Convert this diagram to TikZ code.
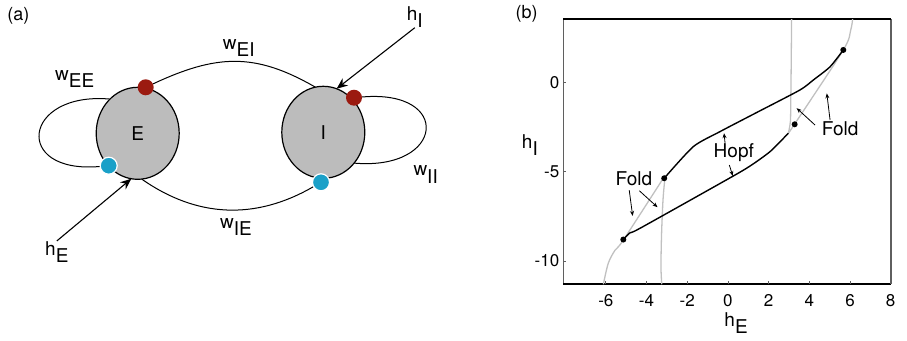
\documentclass[tikz,border=0pt]{standalone}
\usepackage{fontspec}
\setmainfont{TeX Gyre Heros}
\usetikzlibrary{arrows.meta,shapes.geometric}
\definecolor{popgray}{RGB}{188,188,188}
\definecolor{excred}{RGB}{155,26,16}
\definecolor{inhblue}{RGB}{26,160,200}
\definecolor{foldgray}{RGB}{192,192,192}
\definecolor{boxgray}{RGB}{95,95,95}
\newcommand{\lowidx}[2]{#1\raisebox{-7.5pt}{#2}}
\tikzset{
    pop/.style={ellipse, draw, line width=1.2pt, fill=popgray, minimum width=83pt, minimum height=92pt, inner sep=0pt, outer sep=0pt, font=\fontsize{19}{22}\selectfont},
    excdot/.style={circle, fill=excred, minimum size=16pt, inner sep=0pt},
    inhdot/.style={circle, fill=inhblue, draw=white, line width=1.2pt, minimum size=17pt, inner sep=0pt},
    link/.style={draw, line width=1pt},
    drive/.style={draw, line width=1.1pt, -{Stealth[length=11pt,width=9pt]}},
    lbl/.style={inner sep=0pt, anchor=base west, font=\fontsize{19}{22}\selectfont},
    notelbl/.style={inner sep=0pt, anchor=base, font=\fontsize{19}{22}\selectfont},
    ticklbl/.style={inner sep=0pt, font=\fontsize{17}{20}\selectfont},
    hopf/.style={draw, line width=1.4pt},
    fold/.style={draw=foldgray, line width=1.3pt},
    bif/.style={circle, fill=black, minimum size=6pt, inner sep=0pt},
    note/.style={draw, line width=0.8pt, -{Stealth[length=5pt,width=4pt]}},
    axisline/.style={draw=boxgray, line width=1.4pt}
}

\begin{document}
\begin{tikzpicture}[x=1pt, y=-1pt]
    \useasboundingbox (0,0) rectangle (907,340);

    % (a) Nodes
    \node[font=\fontsize{18}{20}\selectfont] (tagA) at (18.3,16) {(a)};
    \node[pop] (E) at (137.7,133.3) {E};
    \node[pop] (I) at (323.3,132.3) {I};
    \node[excdot] (Eexc) at (145.7,87.3) {};
    \node[inhdot] (Einh) at (108.7,165.7) {};
    \node[excdot] (Iexc) at (354,97.7) {};
    \node[inhdot] (Iinh) at (321,182.3) {};

    \node[lbl] (wEE) at (55,80) {\lowidx{w}{EE}};
    \node[lbl] (wEI) at (222.7,49.3) {\lowidx{w}{EI}};
    \node[lbl] (wIE) at (220,228.3) {\lowidx{w}{IE}};
    \node[lbl] (wII) at (413.3,175.7) {\lowidx{w}{II}};
    \node[lbl] (hE) at (45,255) {\lowidx{h}{E}};
    \node[lbl] (hI) at (406.7,20) {\lowidx{h}{I}};

    % (a) edges
    \draw[link] (Eexc) to[out=25, in=150, looseness=1.1] (I.100);
    \draw[link] (E.275) to[out=-35, in=210] (Iinh);
    \draw[link] (E.129) to[out=175, in=185, looseness=3.3] (Einh);
    \draw[link] (Iexc) to[out=5, in=-5, looseness=3.5] (I.315);
    \draw[drive] (hE.north) -- (E.262);
    \draw[drive] (hI.south) -- (I.73);

    % (b) bifurcation diagram
    \node[font=\fontsize{18}{20}\selectfont] (tagB) at (526.7,14) {(b)};
    \begin{scope}[shift={(727.9,82.3)}, x=20.35pt, y=17.87pt]
        % axes
        \coordinate (ll) at (-8.09,-11.3);
        \coordinate (lr) at (8.01,-11.3);
        \coordinate (ul) at (-8.09,3.53);
        \coordinate (ur) at (8.01,3.53);
        \draw[axisline] (ll) -- (ul);
        \draw[axisline] (lr) -- (ur);
        \draw[line width=1.5pt] (ul) -- (ur);
        \draw[line width=1.6pt] (ll) -- (lr);
        \foreach \x in {-6,-4,...,8} {
            \draw[line width=0.8pt, boxgray] (\x,-11.3) -- (\x,-11.12);
            \node[ticklbl] at (\x,-12.21) {\x};
        }
        \foreach \y in {0,-5,-10} {
            \draw[line width=0.8pt, boxgray] (-8.09,\y) -- (-7.95,\y);
            \node[ticklbl, anchor=east] at (-8.28,\y) {\y};
        }
        \node[lbl] (yname) at (-10.13,-3.69) {\lowidx{h}{I}};
        \node[lbl] (xname) at (-0.18,-13.65) {\lowidx{h}{E}};

        % fold curves
        \draw[fold] plot[smooth] coordinates {(-6.12,-11.3) (-5.88,-10.13) (-5.55,-9.4) (-5.14,-8.83) (-3.08,-5.2)};
        \draw[fold] plot[smooth] coordinates {(-3.08,-5.2) (-3.15,-6.0) (-3.2,-6.8) (-3.26,-8.5) (-3.29,-10.3) (-3.25,-11.3)};
        \draw[fold] plot[smooth] coordinates {(3.13,3.53) (3.11,1.0) (3.09,-1.0) (3.07,-2.2) (2.97,-2.85)};
        \draw[fold] plot[smooth] coordinates {(2.97,-2.85) (3.3,-2.3) (5.67,1.81) (6.03,2.9) (6.13,3.53)};

        % Hopf curve
        \draw[hopf] plot[smooth, tension=0.4] coordinates {(-3.13,-5.37) (-1.7,-3.6) (-0.39,-2.76) (1.5,-1.64) (3.54,-0.43) (4.2,0.13) (5.02,0.87) (5.67,1.81)};
        \draw[hopf] plot[smooth, tension=0.4] coordinates {(-5.14,-8.8) (-4.81,-8.42) (-4.32,-8.17) (0.27,-5.24) (1.2,-4.6) (2.07,-3.88) (2.81,-3.04) (2.97,-2.85)};

        % bifurcation points
        \node[bif] (bt1) at (-5.14,-8.8) {};
        \node[bif] (bt2) at (-3.13,-5.37) {};
        \node[bif] (bt3) at (3.28,-2.35) {};
        \node[bif] (bt4) at (5.67,1.81) {};

        % labels
        \node[notelbl] (foldL) at (-4.62,-5.75) {Fold};
        \node[notelbl] (hopfM) at (0.29,-4.22) {Hopf};
        \node[notelbl] (foldR) at (5.51,-2.99) {Fold};
        \coordinate (fL1a) at (-4.85,-6.03);
        \coordinate (fL1b) at (-4.68,-7.48);
        \coordinate (fL2a) at (-4.35,-6.07);
        \coordinate (fL2b) at (-3.46,-6.99);
        \coordinate (hp1a) at (-0.14,-3.41);
        \coordinate (hp1b) at (-0.19,-2.85);
        \coordinate (hp2a) at (0.07,-4.63);
        \coordinate (hp2b) at (0.24,-5.24);
        \coordinate (fR1a) at (4.28,-2.39);
        \coordinate (fR1b) at (3.38,-1.45);
        \coordinate (fR2a) at (5.02,-2.11);
        \coordinate (fR2b) at (4.86,-0.62);
        \draw[note] (fL1a) -- (fL1b);
        \draw[note] (fL2a) -- (fL2b);
        \draw[note] (hp1a) -- (hp1b);
        \draw[note] (hp2a) -- (hp2b);
        \draw[note] (fR1a) -- (fR1b);
        \draw[note] (fR2a) -- (fR2b);
    \end{scope}
\end{tikzpicture}
\end{document}
